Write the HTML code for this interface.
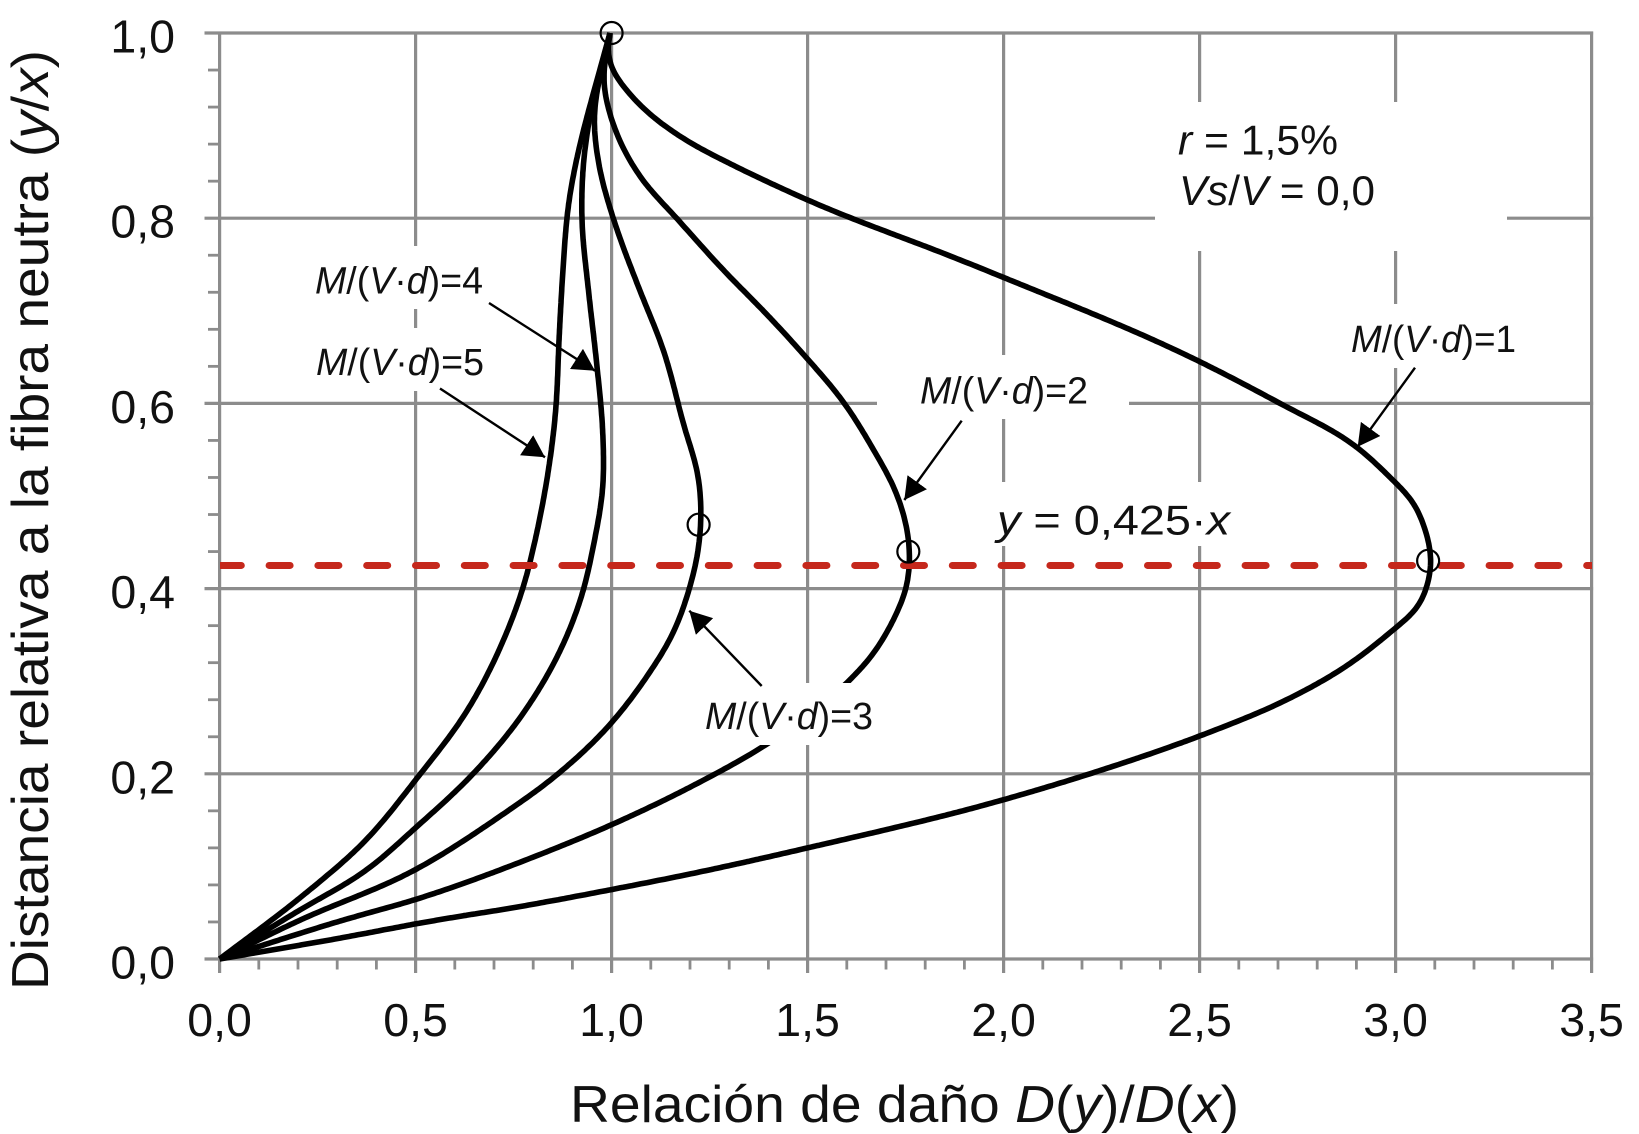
<!DOCTYPE html>
<html lang="es">
<head>
<meta charset="utf-8">
<title>Relación de daño</title>
<style>
html,body{margin:0;padding:0;background:#fff;}
svg{display:block;font-family:"Liberation Sans",sans-serif;fill:#111;}
.tick{font-size:46.5px;}
.title{font-size:52px;}
.note{font-size:38px;}
.big{font-size:42px;}
.i{font-style:italic;}
</style>
</head>
<body>
<svg id="chart" xmlns="http://www.w3.org/2000/svg" width="1639" height="1134" viewBox="0 0 1639 1134">
<defs>
<clipPath id="plot-clip"><rect x="220" y="20" width="1372" height="960"/></clipPath>
<marker id="arrowhead" viewBox="0 0 22 24" refX="22" refY="12" markerWidth="22" markerHeight="24" markerUnits="userSpaceOnUse" orient="auto"><path d="M0 0L22 12L0 24Z" fill="#000"/></marker>
</defs>
<g id="grid"></g>
<g id="series"></g>
<g fill="#fff">
<rect x="1155" y="102" width="352" height="149" fill="#fff"/>
<rect x="1335" y="304" width="200" height="64" fill="#fff"/>
<rect x="877" y="355" width="252" height="64" fill="#fff"/>
<rect x="965" y="482" width="260" height="64" fill="#fff"/>
<rect x="690" y="683" width="205" height="62" fill="#fff"/>
<rect x="300" y="246" width="190" height="63" fill="#fff"/>
<rect x="300" y="328" width="190" height="63" fill="#fff"/>
</g>
<g id="overlay"></g>
<g stroke="#000" stroke-width="2.4">
<line x1="1415" y1="367.7" x2="1357.7" y2="446.7" marker-end="url(#arrowhead)"/>
<line x1="961.7" y1="420.7" x2="904.3" y2="500" marker-end="url(#arrowhead)"/>
<line x1="761.7" y1="686" x2="689.3" y2="610.7" marker-end="url(#arrowhead)"/>
<line x1="489" y1="303" x2="595" y2="370.7" marker-end="url(#arrowhead)"/>
<line x1="440" y1="388.5" x2="545" y2="457.3" marker-end="url(#arrowhead)"/>
</g>
<g id="ticklabels"></g>
<text class="title" x="570" y="1122" textLength="669" lengthAdjust="spacingAndGlyphs">Relación de daño <tspan class="i">D</tspan>(<tspan class="i">y</tspan>)/<tspan class="i">D</tspan>(<tspan class="i">x</tspan>)</text>
<text class="title" transform="translate(48,990) rotate(-90)" x="0" y="0" textLength="940" lengthAdjust="spacingAndGlyphs">Distancia relativa a la fibra neutra (<tspan class="i">y</tspan>/<tspan class="i">x</tspan>)</text>
<text class="note" x="1351" y="352" textLength="165" lengthAdjust="spacingAndGlyphs"><tspan class="i">M</tspan>/(<tspan class="i">V</tspan>·<tspan class="i">d</tspan>)=1</text>
<text class="note" x="920" y="403.6" textLength="168" lengthAdjust="spacingAndGlyphs"><tspan class="i">M</tspan>/(<tspan class="i">V</tspan>·<tspan class="i">d</tspan>)=2</text>
<text class="note" x="705" y="729" textLength="168" lengthAdjust="spacingAndGlyphs"><tspan class="i">M</tspan>/(<tspan class="i">V</tspan>·<tspan class="i">d</tspan>)=3</text>
<text class="note" x="315" y="293.6" textLength="168" lengthAdjust="spacingAndGlyphs"><tspan class="i">M</tspan>/(<tspan class="i">V</tspan>·<tspan class="i">d</tspan>)=4</text>
<text class="note" x="316" y="375" textLength="168" lengthAdjust="spacingAndGlyphs"><tspan class="i">M</tspan>/(<tspan class="i">V</tspan>·<tspan class="i">d</tspan>)=5</text>
<text class="big" x="1178" y="154.3" textLength="160" lengthAdjust="spacingAndGlyphs"><tspan class="i">r</tspan> = 1,5%</text>
<text class="big" x="1179" y="205" textLength="196" lengthAdjust="spacingAndGlyphs"><tspan class="i">Vs</tspan>/<tspan class="i">V</tspan> = 0,0</text>
<text class="big" x="997" y="534.6" textLength="233" lengthAdjust="spacingAndGlyphs"><tspan class="i">y</tspan> = 0,425·<tspan class="i">x</tspan></text>
</svg>
<script>
const xTickLabels = ["0,0","0,5","1,0","1,5","2,0","2,5","3,0","3,5"];
const xTickValues = [0,0.5,1,1.5,2,2.5,3,3.5];
const yTickLabels = ["0,0","0,2","0,4","0,6","0,8","1,0"];
const yTickValues = [0,0.2,0.4,0.6,0.8,1];
const xMinorValues = [0.1,0.2,0.3,0.4,0.6,0.7,0.8,0.9,1.1,1.2,1.3,1.4,1.6,1.7,1.8,1.9,2.1,2.2,2.3,2.4,2.6,2.7,2.8,2.9,3.1,3.2,3.3,3.4];
const yMinorValues = [0.04,0.08,0.12,0.16,0.24,0.28,0.32,0.36,0.44,0.48,0.52,0.56,0.64,0.68,0.72,0.76,0.84,0.88,0.92,0.96];

const curve1X = [0,0.3,0.554,0.758,1,1.225,1.5,2,2.22,2.526,2.713,2.884,2.998,3.058,3.085,3.092,3.088,3.075,3.045,2.998,2.901,2.705,2.501,2,1.889,1.498,1.43,1.311,1.183,1.098,1.034,0.991,0.996];
const curve1Y = [0,0.022,0.042,0.056,0.075,0.094,0.12,0.172,0.2,0.245,0.278,0.319,0.357,0.38,0.409,0.428,0.445,0.465,0.494,0.515,0.553,0.6,0.645,0.736,0.755,0.82,0.833,0.857,0.886,0.912,0.94,0.97,1];
const curve2X = [0,0.315,0.498,0.8,1,1.225,1.385,1.6,1.665,1.719,1.752,1.76,1.727,1.668,1.591,1.502,1.378,1.294,1.166,1.072,1,0.979,0.996];
const curve2Y = [0,0.042,0.064,0.11,0.145,0.191,0.229,0.298,0.328,0.366,0.4,0.445,0.503,0.55,0.602,0.647,0.704,0.74,0.8,0.845,0.906,0.949,1];
const curve3X = [0,0.205,0.498,0.715,0.864,1,1.09,1.155,1.2,1.22,1.228,1.223,1.183,1.132,1.072,1.004,0.97,0.956,0.97,0.996];
const curve3Y = [0,0.042,0.096,0.154,0.2,0.255,0.305,0.35,0.402,0.438,0.474,0.517,0.578,0.658,0.722,0.8,0.852,0.917,0.953,1];
const curve4X = [0,0.205,0.375,0.498,0.647,0.766,0.881,0.928,0.953,0.978,0.978,0.962,0.941,0.924,0.928,0.949,0.996];
const curve4Y = [0,0.053,0.096,0.141,0.2,0.26,0.344,0.398,0.445,0.51,0.565,0.643,0.722,0.8,0.859,0.92,1];
const curve5X = [0,0.205,0.375,0.503,0.63,0.724,0.775,0.809,0.839,0.856,0.867,0.877,0.889,0.924,0.949,0.996];
const curve5Y = [0,0.066,0.129,0.195,0.267,0.344,0.402,0.46,0.528,0.585,0.679,0.751,0.812,0.888,0.928,1];
const markerX = [1,1.757,1.222,3.083];
const markerY = [1,0.44,0.469,0.43];
const referenceValue = [0.425];

const SVGNS = "http://www.w3.org/2000/svg";
function xScale(v){ return 219.6 + v * 392; }
function yScale(v){ return 959 - v * 926; }
function make(tag, attrs, parent){
  const el = document.createElementNS(SVGNS, tag);
  for (const k in attrs) el.setAttribute(k, attrs[k]);
  parent.appendChild(el);
  return el;
}
/* Hand-read points -> Hermite spline -> uniform arc-length samples -> gaussian smoothing */
function smoothPath(xs, ys){
  const p = xs.map((x,i)=>[xScale(x), yScale(ys[i])]);
  const t = p.map(function(q,i){
    const a = p[Math.max(i-1,0)], b = p[Math.min(i+1,p.length-1)];
    let dx = b[0]-a[0], dy = b[1]-a[1];
    if (i>0 && i<p.length-1){
      const la = Math.hypot(q[0]-a[0],q[1]-a[1]), lb = Math.hypot(b[0]-q[0],b[1]-q[1]);
      dx = (q[0]-a[0])/la*lb + (b[0]-q[0])/lb*la;
      dy = (q[1]-a[1])/la*lb + (b[1]-q[1])/lb*la;
    }
    const l = Math.hypot(dx,dy) || 1;
    return [dx/l, dy/l];
  });
  const dense = [];
  for (let i=0;i<p.length-1;i++){
    const b=p[i], c=p[i+1];
    const seg = Math.hypot(c[0]-b[0],c[1]-b[1]);
    const s = seg/3;
    const c1=[b[0]+t[i][0]*s,b[1]+t[i][1]*s], c2=[c[0]-t[i+1][0]*s,c[1]-t[i+1][1]*s];
    const n = Math.max(2,Math.round(seg/3));
    for (let k=0;k<n;k++){
      const u=k/n, w=1-u;
      dense.push([
        w*w*w*b[0]+3*w*w*u*c1[0]+3*w*u*u*c2[0]+u*u*u*c[0],
        w*w*w*b[1]+3*w*w*u*c1[1]+3*w*u*u*c2[1]+u*u*u*c[1]
      ]);
    }
  }
  dense.push(p[p.length-1]);
  const sigma = 4;
  const out = dense.map(function(q,i){
    const r = Math.min(i, dense.length-1-i, Math.ceil(sigma*3));
    let sx=0, sy=0, sw=0;
    for (let j=-r;j<=r;j++){
      const w = Math.exp(-j*j/(2*sigma*sigma));
      sx += dense[i+j][0]*w; sy += dense[i+j][1]*w; sw += w;
    }
    return [sx/sw, sy/sw];
  });
  return "M" + out.map(q=>q[0].toFixed(1)+" "+q[1].toFixed(1)).join("L");
}
const GRID = "#8c8c8c";
const grid = document.getElementById("grid");
yTickValues.forEach(function(v){
  const el = make("line",{x1:204.5,x2:xScale(3.5)+1.5,y1:yScale(v),y2:yScale(v),stroke:GRID,"stroke-width":3.2},grid);
  
  
});
xTickValues.forEach(function(v){
  const el = make("line",{x1:xScale(v),x2:xScale(v),y1:yScale(1)-1.5,y2:973,stroke:GRID,"stroke-width":3.2},grid);
  
  
});
yMinorValues.forEach(function(v){
  const el = make("line",{x1:208,x2:xScale(0),y1:yScale(v),y2:yScale(v),stroke:GRID,"stroke-width":2.8},grid);
  
  
});
xMinorValues.forEach(function(v){
  const el = make("line",{x1:xScale(v),x2:xScale(v),y1:yScale(0),y2:969.5,stroke:GRID,"stroke-width":2.8},grid);
  
  
});
const series = document.getElementById("series");
[[curve1X,curve1Y],[curve2X,curve2Y],[curve3X,curve3Y],[curve4X,curve4Y],[curve5X,curve5Y]].forEach(function(c,i){
  const el = make("path",{d:smoothPath(c[0],c[1]),fill:"none",stroke:"#000","stroke-width":5.6,"stroke-linejoin":"round"},series);
  
  
});
const overlay = document.getElementById("overlay");
referenceValue.forEach(function(v){
  const el = make("line",{x1:220.3,x2:1600,y1:yScale(v),y2:yScale(v),stroke:"#c5281c","stroke-width":7,"stroke-linecap":"round","stroke-dasharray":"21 27.8","clip-path":"url(#plot-clip)"},overlay);
  
  
});
markerX.forEach(function(x,i){
  const el = make("circle",{cx:xScale(x),cy:yScale(markerY[i]),r:11,fill:"none",stroke:"#000","stroke-width":2.2},overlay);
  
  
});
const tl = document.getElementById("ticklabels");
xTickLabels.forEach(function(s,i){
  const el = make("text",{x:xScale(xTickValues[i]),y:1036,"text-anchor":"middle","class":"tick"},tl);
  
  
  el.textContent = s;
});
yTickLabels.forEach(function(s,i){
  const el = make("text",{x:175,y:yScale(yTickValues[i])+19.5,"text-anchor":"end","class":"tick"},tl);
  
  
  el.textContent = s;
});
</script>
</body>
</html>
